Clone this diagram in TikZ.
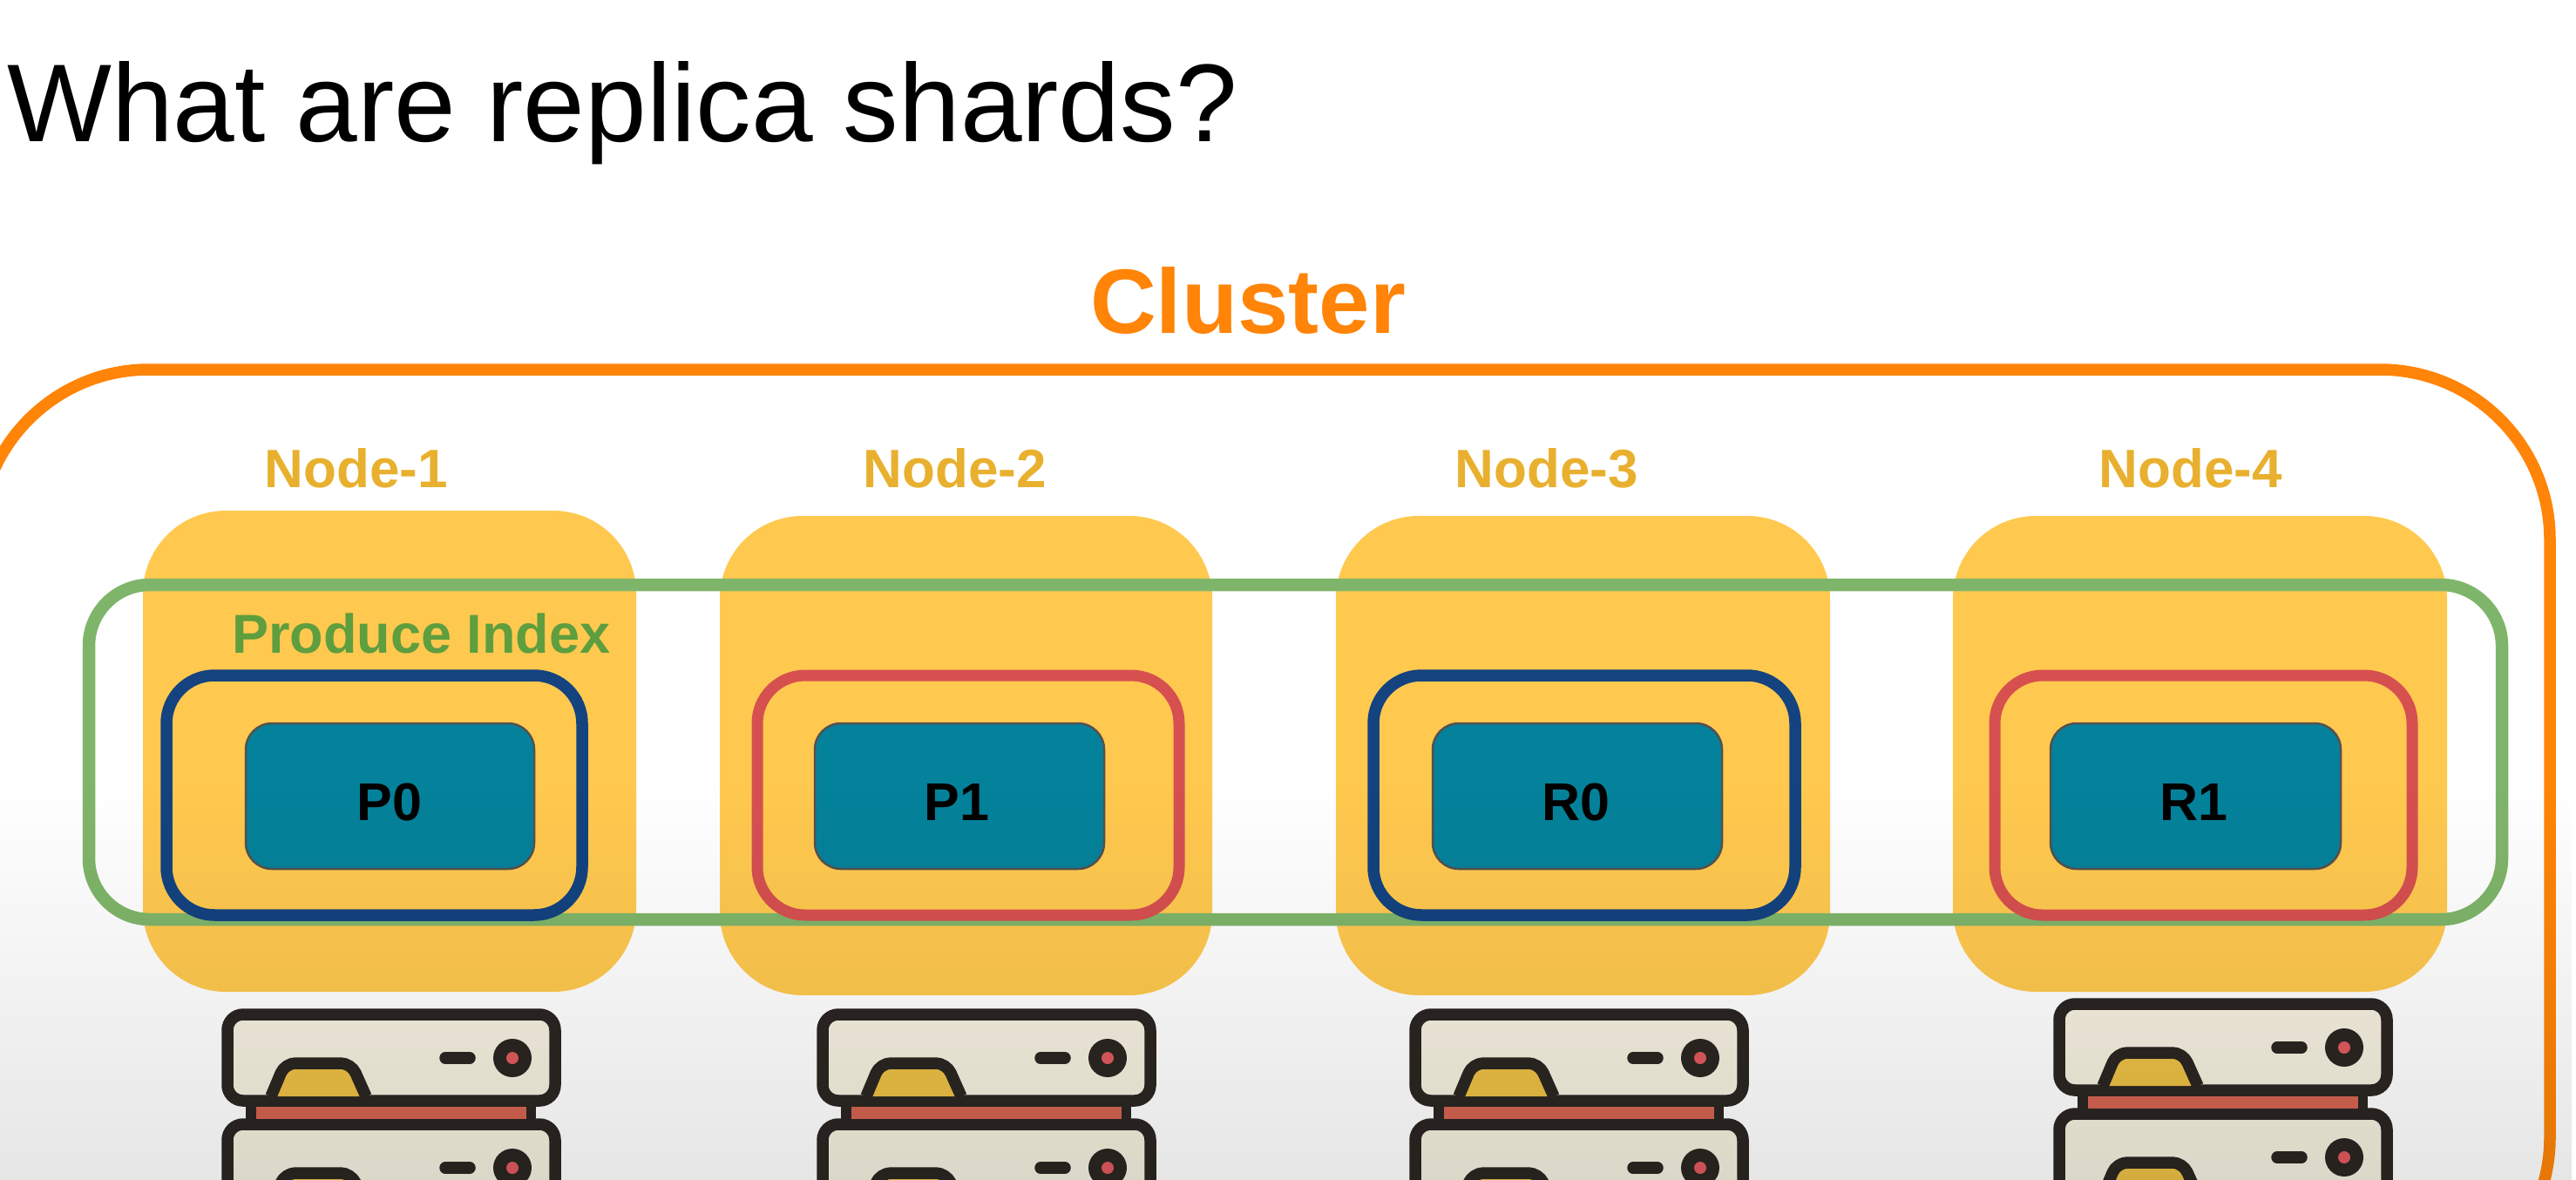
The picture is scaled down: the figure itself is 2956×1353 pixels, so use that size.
\documentclass[tikz,border=0pt]{standalone}
\usepackage{fontspec}
\setmainfont{Liberation Sans}
\usetikzlibrary{fadings}
\definecolor{clusterc}{HTML}{FF8407}
\definecolor{nodetxt}{HTML}{E8B02E}
\definecolor{nodefill}{HTML}{FFC94F}
\definecolor{greenbox}{HTML}{7FB56A}
\definecolor{greentxt}{HTML}{5E9E3E}
\definecolor{bluebox}{HTML}{14437F}
\definecolor{redbox}{HTML}{D65050}
\definecolor{teal}{HTML}{05829B}
\definecolor{srvdark}{HTML}{2B2622}
\definecolor{srvfill}{HTML}{F5F0DF}
\definecolor{srvgold}{HTML}{ECBF45}
\definecolor{srvbar}{HTML}{D56452}
\definecolor{srvdot}{HTML}{E05A5E}
\tikzfading[name=botfade,bottom color=transparent!87,top color=transparent!100]
\tikzset{
  x=1pt,y=-1pt,
  clusterbox/.style={draw=clusterc,line width=13.5pt,rounded corners=195pt},
  nodebox/.style={fill=nodefill,rounded corners=95pt},
  greenframe/.style={draw=greenbox,line width=14.5pt,rounded corners=70pt},
  blueframe/.style={draw=bluebox,line width=13.5pt,rounded corners=55pt},
  redframe/.style={draw=redbox,line width=13pt,rounded corners=55pt},
  shard/.style={fill=teal,draw=srvdark!80,line width=2.5pt,rounded corners=30pt},
  nodelabel/.style={text=nodetxt,font=\fontsize{62}{66}\selectfont\bfseries,inner sep=0pt,anchor=base},
  shardlabel/.style={text=black,font=\fontsize{61}{64}\selectfont\bfseries,inner sep=0pt,anchor=base},
  srvline/.style={draw=srvdark,line width=13.5pt},
}
\newcommand{\srvunit}[2]{%
  \begin{scope}[shift={(#1,#2)}]
    \fill[srvdark] (282,1264) rectangle (615,1297);
    \fill[srvbar] (294,1270) rectangle (604,1284);
    \draw[srvline,fill=srvfill,rounded corners=18pt] (261,1164) rectangle (637,1263);
    \draw[srvline,fill=srvgold,rounded corners=12pt,line join=round]
      (311,1258) -- (327,1220) -- (403,1220) -- (420,1258);
    \draw[srvdark,line width=13.5pt,line cap=round] (511,1214) -- (539,1214);
    \fill[srvdark] (588,1214) circle (22pt);
    \fill[srvdot] (588,1214) circle (7pt);
  \end{scope}}
\newcommand{\srvstack}[2]{%
  \srvunit{#1}{#2+126}%
  \srvunit{#1}{#2}}
\begin{document}
\begin{tikzpicture}
\useasboundingbox (0,0) rectangle (2956,1353);
\clip (0,0) rectangle (2956,1353);
\fill[white] (0,0) rectangle (2956,1353);
\node[anchor=base west,inner sep=0pt,font=\fontsize{127}{131}\selectfont] (title) at (8,162) {What are replica shards?};
\node[anchor=base,inner sep=0pt,text=clusterc,font=\fontsize{105}{110}\selectfont\bfseries] (clustertxt) at (1432,382) {Cluster};
\draw[clusterbox] (-24,1500) rectangle (2926,424);
\fill[nodebox] (164,586) rectangle (730,1138);
\fill[nodebox] (826,592) rectangle (1391,1142);
\fill[nodebox] (1533,592) rectangle (2100,1142);
\fill[nodebox] (2241,592) rectangle (2808,1138);
\node[nodelabel] (n1) at (409,559) {Node-1};
\node[nodelabel] (n2) at (1096,559) {Node-2};
\node[nodelabel] (n3) at (1775,559) {Node-3};
\node[nodelabel] (n4) at (2514,559) {Node-4};
\draw[greenframe] (102,671) rectangle (2871,1055);
\node[anchor=base west,inner sep=0pt,text=greentxt,font=\fontsize{63}{67}\selectfont\bfseries] (prod) at (266,749) {Produce Index};
\draw[blueframe] (191,775) rectangle (668,1050);
\draw[redframe] (869,775) rectangle (1353,1050);
\draw[blueframe] (1576,775) rectangle (2060,1050);
\draw[redframe] (2289,775) rectangle (2768,1050);
\draw[shard] (282,830) rectangle (613,997);
\draw[shard] (935,830) rectangle (1267,997);
\draw[shard] (1644,830) rectangle (1976,997);
\draw[shard] (2353,830) rectangle (2686,997);
\node[shardlabel] (p0) at (447,941) {P0};
\node[shardlabel] (p1) at (1098,941) {P1};
\node[shardlabel] (r0) at (1808,941) {R0};
\node[shardlabel] (r1) at (2517,941) {R1};
\srvstack{0}{0}
\srvstack{683}{0}
\srvstack{1363}{0}
\srvstack{2102}{-12}
\fill[black,path fading=botfade] (0,899) rectangle (2956,1504);
\end{tikzpicture}
\end{document}
